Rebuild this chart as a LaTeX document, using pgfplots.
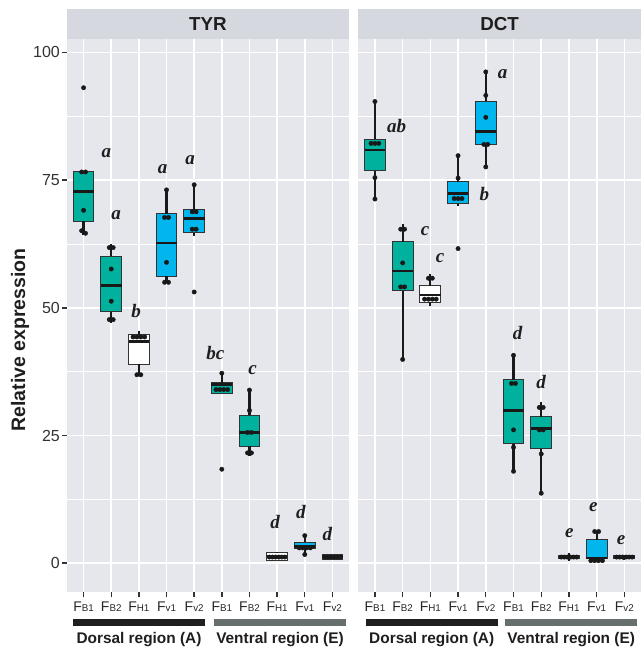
\documentclass[border=0pt]{standalone}
\usepackage{pgfplots}
\pgfplotsset{compat=1.18}
\usepgfplotslibrary{statistics}
\usepackage{fontspec}
\setmainfont{Liberation Sans}
\newfontfamily\letfont{Liberation Serif}
\definecolor{panelbg}{RGB}{230,231,237}
\definecolor{stripbg}{RGB}{214,216,224}
\definecolor{tealc}{RGB}{0,178,158}
\definecolor{bluec}{RGB}{0,182,236}
\definecolor{barg}{RGB}{103,110,110}
\definecolor{boxedge}{RGB}{51,51,51}
\definecolor{txt}{RGB}{30,30,30}
\newcommand{\F}[1]{F{\fontsize{9.8bp}{10bp}\selectfont #1}}
\newcommand{\bx}[7]{\addplot[boxplot prepared={draw position=#1, lower whisker=#2, lower quartile=#3, median=#4, upper quartile=#5, upper whisker=#6}, fill=#7, draw=boxedge, line width=1bp,
  boxplot/every whisker/.style={draw=black!90, line width=2bp},
  boxplot/every median/.style={draw=black!90, line width=2.8bp}] coordinates {};
  \addplot[black!90, line width=2.2bp, forget plot] coordinates {(#1,#2) (#1,#3)};
  \addplot[black!90, line width=2.2bp, forget plot] coordinates {(#1,#5) (#1,#6)};}
\newcommand{\lt}[3]{\node[font=\letfont\bfseries\itshape\fontsize{19bp}{20bp}\selectfont, text=txt] at (axis cs:#1,#2) {#3};}
\pgfplotsset{
  panel/.style={
    scale only axis, width=282bp, height=553.6bp, anchor=south west,
    xmin=0.4, xmax=10.6, ymin=-5.7, ymax=102.7,
    axis background/.style={fill=panelbg},
    axis line style={draw=none},
    xtick={1,...,10},
    xticklabels={\F{B1},\F{B2},\F{H1},\F{v1},\F{v2},\F{B1},\F{B2},\F{H1},\F{v1},\F{v2}},
    ytick={0,25,50,75,100},
    minor ytick={12.5,37.5,62.5,87.5},
    grid=both,
    major grid style={white, line width=1.7bp},
    minor grid style={white, line width=0.85bp},
    tick align=outside,
    major tick length=5bp, minor tick length=0pt,
    every major tick/.style={black!80, line width=1.4bp},
    xtick pos=left, ytick pos=left,
    x tick label style={font=\fontsize{14bp}{14bp}\selectfont, text=black!85, inner sep=2bp, yshift=-2bp},
    y tick label style={font=\fontsize{16bp}{17bp}\selectfont, text=black!80, inner sep=2bp},
    /pgf/number format/assume math mode=true,
    boxplot/draw direction=y,
    boxplot/box extend=0.75,
    boxplot/whisker extend=0,
    clip=false,
  },
  pts/.style={only marks, mark=*, mark size=2.2bp, black!90},
}
\begin{document}
\begin{tikzpicture}
% strips
\fill[stripbg] (67bp,-9bp) rectangle (349bp,-38.7bp);
\fill[stripbg] (358.3bp,-9bp) rectangle (641bp,-38.7bp);
\node[font=\bfseries\fontsize{18.8bp}{19bp}\selectfont, text=txt] at (208bp,-23.8bp) {TYR};
\node[font=\bfseries\fontsize{18.8bp}{19bp}\selectfont, text=txt] at (499.6bp,-23.8bp) {DCT};
% left panel
\begin{axis}[panel, at={(67bp,-592.3bp)}]
\bx{1}{64.3}{67.0}{72.8}{76.6}{76.6}{tealc}
\bx{2}{47.1}{49.2}{54.4}{60.1}{62.5}{tealc}
\bx{3}{36.6}{39.0}{43.4}{44.7}{45.5}{white}
\bx{4}{55.0}{56.2}{62.7}{68.4}{73.1}{bluec}
\bx{5}{64.1}{64.7}{67.5}{69.2}{74.1}{bluec}
\bx{6}{33.3}{33.3}{35.0}{35.3}{37.2}{tealc}
\bx{7}{21.0}{22.9}{25.6}{29.0}{33.9}{tealc}
\bx{8}{0.5}{0.5}{1.3}{2.0}{2.1}{white}
\bx{9}{1.7}{2.8}{3.3}{4.1}{5.4}{bluec}
\bx{10}{0.8}{0.8}{1.3}{1.8}{1.8}{bluec}
\addplot[pts] coordinates {
(1,93.1) (0.93,76.6) (1.07,76.6) (1,69.1) (0.93,65.1) (1.07,64.6)
(1.93,61.8) (2.07,61.8) (2,57.6) (2,51.3) (1.93,47.7) (2.07,47.7)
(2.79,44.3) (2.93,44.3) (3.07,44.3) (3.21,44.3) (2.93,36.9) (3.07,36.9)
(4,73.1) (3.93,67.7) (4.07,67.7) (4,58.9) (3.93,55.0) (4.07,55.0)
(5,74.1) (4.93,68.8) (5.07,68.8) (4.93,65.4) (5.07,65.4) (5,53.1)
(6,37.2) (5.79,34.0) (5.93,34.0) (6.07,34.0) (6.21,34.0) (6,18.4)
(7,33.9) (7,29.9) (6.93,25.6) (7.07,25.6) (6.93,21.6) (7.07,21.6)
(7.72,1.2) (7.83,1.2) (7.94,1.2) (8.06,1.2) (8.17,1.2) (8.28,1.2)
(9,5.4) (8.8,3.0) (8.93,3.0) (9.07,3.0) (9.2,3.0) (9,1.7)
(9.72,1.2) (9.83,1.2) (9.94,1.2) (10.06,1.2) (10.17,1.2) (10.28,1.2)
};
\lt{1.82}{80.3}{a}
\lt{2.18}{68.2}{a}
\lt{2.90}{49.4}{b}
\lt{3.86}{77.1}{a}
\lt{4.85}{79.0}{a}
\lt{5.77}{41.1}{bc}
\lt{7.11}{37.8}{c}
\lt{7.93}{8.0}{d}
\lt{8.86}{10.0}{d}
\lt{9.82}{5.8}{d}
\end{axis}
% right panel
\begin{axis}[panel, at={(358.3bp,-592.3bp)}, width=282.7bp, yticklabels={}, ytick style={draw=none}]
\bx{1}{71.3}{76.8}{80.9}{83.0}{90.4}{tealc}
\bx{2}{39.9}{53.3}{57.2}{62.9}{66.5}{tealc}
\bx{3}{50.3}{51.1}{52.5}{54.3}{56.7}{white}
\bx{4}{69.9}{70.4}{72.4}{74.7}{79.8}{bluec}
\bx{5}{77.6}{82.0}{84.6}{90.5}{96.2}{bluec}
\bx{6}{18.0}{23.4}{29.9}{35.9}{40.7}{tealc}
\bx{7}{13.7}{22.4}{26.4}{28.7}{31.6}{tealc}
\bx{8}{0.5}{0.9}{1.2}{1.5}{1.9}{white}
\bx{9}{0.5}{0.9}{1.0}{4.6}{6.2}{bluec}
\bx{10}{0.8}{0.9}{1.2}{1.5}{1.6}{bluec}
\addplot[pts] coordinates {
(1,90.4) (0.86,82.2) (1,82.2) (1.14,82.2) (1,75.5) (1,71.3)
(1.93,65.4) (2.07,65.4) (2,58.8) (1.93,54.1) (2.07,54.1) (2,39.9)
(2.93,55.8) (3.07,55.8) (2.79,51.7) (2.93,51.7) (3.07,51.7) (3.21,51.7)
(4,79.8) (4,75.4) (3.86,71.4) (4,71.4) (4.14,71.4) (4,61.6)
(5,96.2) (5,91.6) (5,87.3) (4.93,82.0) (5.07,82.0) (5,77.6)
(6,40.7) (5.93,35.2) (6.07,35.2) (6,26.1) (6,22.7) (6,18.0)
(6.93,30.5) (7.07,30.5) (6.93,26.1) (7.07,26.1) (7,21.4) (7,13.7)
(7.72,1.2) (7.83,1.2) (7.94,1.2) (8.06,1.2) (8.17,1.2) (8.28,1.2)
(8.93,6.2) (9.07,6.2) (8.79,0.5) (8.93,0.5) (9.07,0.5) (9.21,0.5)
(9.72,1.2) (9.83,1.2) (9.94,1.2) (10.06,1.2) (10.17,1.2) (10.28,1.2)
};
\lt{1.78}{85.6}{ab}
\lt{2.81}{65.0}{c}
\lt{3.35}{59.7}{c}
\lt{4.95}{72.2}{b}
\lt{5.61}{95.8}{a}
\lt{6.15}{45.0}{d}
\lt{7.00}{35.5}{d}
\lt{8.01}{5.8}{e}
\lt{8.88}{10.9}{e}
\lt{9.88}{4.6}{e}
\end{axis}
% y label
\node[rotate=90, anchor=base, font=\bfseries\fontsize{19.5bp}{20bp}\selectfont, text=txt] at (25bp,-340bp) {Relative expression};
% region bars
\fill[black!88] (72.7bp,-619.3bp) rectangle (204.7bp,-625.7bp);
\fill[barg] (214bp,-619.3bp) rectangle (345.7bp,-625.7bp);
\fill[black!88] (365.7bp,-619.3bp) rectangle (497.7bp,-625.7bp);
\fill[barg] (505.3bp,-619.3bp) rectangle (637bp,-625.7bp);
\node[anchor=base, font=\bfseries\fontsize{15.4bp}{16bp}\selectfont, text=txt] at (139bp,-643bp) {Dorsal region (A)};
\node[anchor=base, font=\bfseries\fontsize{15.4bp}{16bp}\selectfont, text=txt] at (280bp,-643bp) {Ventral region (E)};
\node[anchor=base, font=\bfseries\fontsize{15.4bp}{16bp}\selectfont, text=txt] at (431.7bp,-643bp) {Dorsal region (A)};
\node[anchor=base, font=\bfseries\fontsize{15.4bp}{16bp}\selectfont, text=txt] at (571.2bp,-643bp) {Ventral region (E)};
\pgfresetboundingbox
\useasboundingbox (0,0) rectangle (641bp,-648bp);
\end{tikzpicture}
\end{document}
